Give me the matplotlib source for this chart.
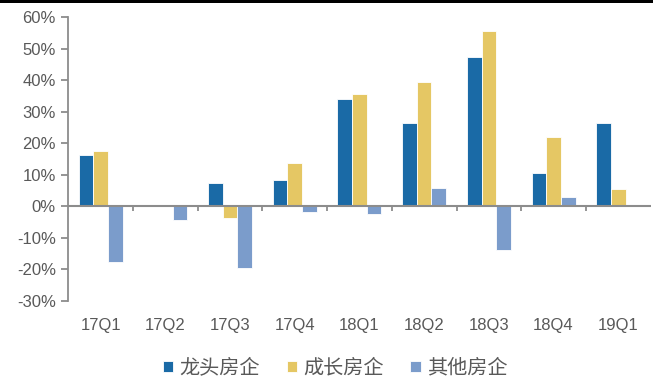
import matplotlib
matplotlib.use("Agg")
import matplotlib.pyplot as plt
from matplotlib.patches import Rectangle
import numpy as np

quarters = ["17Q1", "17Q2", "17Q3", "17Q4", "18Q1", "18Q2", "18Q3", "18Q4", "19Q1"]
leading = [16.3, 0.3, 7.3, 8.5, 34.2, 26.6, 47.4, 10.7, 26.4]
growth = [17.5, 0.2, -3.6, 13.8, 35.7, 39.4, 55.6, 22.0, 5.6]
others = [-17.5, -4.4, -19.5, -1.7, -2.5, 5.7, -13.8, 2.9, 0.6]
series_names = ["龙头房企", "成长房企", "其他房企"]
colors = ["#1A6AA6", "#E5C764", "#7B9CCB"]
yticks = [-30, -20, -10, 0, 10, 20, 30, 40, 50, 60]

plt.rcParams["font.family"] = ["Liberation Sans", "DejaVu Sans"]
text_color = "#595959"
axis_color = "#8C8C8C"

fig = plt.figure(figsize=(6.53, 3.81), dpi=100)
ax = fig.add_axes([68.3 / 653, 1 - 301 / 381, (650.6 - 68.3) / 653, (301 - 17.3) / 381])

x = np.arange(len(quarters))
w = 0.227
bars = []
for i, (vals, name, c) in enumerate(zip([leading, growth, others], series_names, colors)):
    b = ax.bar(x + (i - 1) * w, vals, width=w, color=c, edgecolor="white",
               linewidth=0.6, label=name, zorder=2)
    bars.append(b)

ax.set_xlim(-0.5, len(quarters) - 0.5)
ax.set_ylim(-30, 60)

# zero line with category separators
ax.axhline(0, color=axis_color, linewidth=1.5, zorder=3)
for b in np.arange(0.5, len(quarters) - 0.5, 1.0):
    ax.plot([b, b], [0, -1.6], color=axis_color, linewidth=1.3, zorder=3,
            solid_capstyle="butt")

for s in ["top", "right", "bottom"]:
    ax.spines[s].set_visible(False)
ax.spines["left"].set_color(axis_color)
ax.spines["left"].set_linewidth(1.3)

ax.set_yticks(yticks)
ax.set_yticklabels([f"{v}%" for v in yticks])
ax.tick_params(axis="y", length=5, width=1.3, color=axis_color, labelsize=12,
               labelcolor=text_color, pad=4)
ax.set_xticks(x)
ax.set_xticklabels(quarters)
ax.tick_params(axis="x", length=0, labelsize=12, labelcolor=text_color, pad=12)

leg = fig.legend(handles=bars, labels=series_names, loc="center",
                 bbox_to_anchor=(0.513, 1 - 368 / 381), ncol=3, frameon=False,
                 borderpad=0.1,
                 prop={"family": ["Noto Sans CJK SC", "DejaVu Sans"], "size": 14.5},
                 handlelength=0.5, handleheight=0.5, handletextpad=0.3,
                 columnspacing=1.35, labelcolor=text_color)

# black band across the top edge
fig.add_artist(Rectangle((0, 1 - 3 / 381), 1, 3 / 381, transform=fig.transFigure,
                         facecolor="black", edgecolor="none"))

fig.savefig("out.png", dpi=100)
